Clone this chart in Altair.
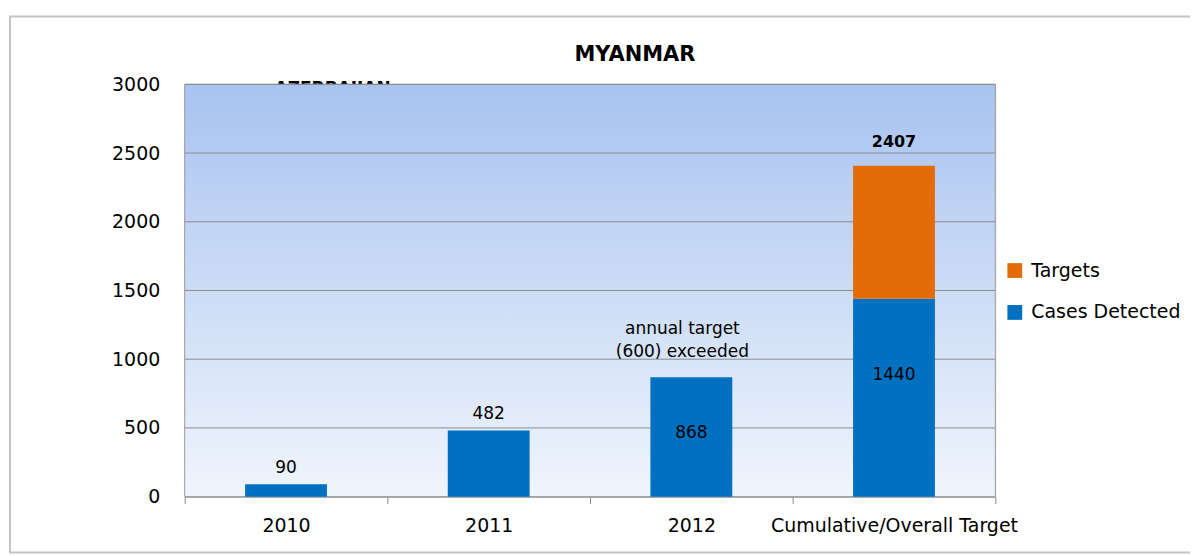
import altair as alt
import pandas as pd

categories = ["2010", "2011", "2012", "Cumulative/Overall Target"]
cases_detected = [90, 482, 868, 1440]
targets = [0, 0, 0, 967]
series_names = ["Targets", "Cases Detected"]
colors = ["#E36C09", "#0070C0"]
annotation_lines = ["annual target", "(600) exceeded"]
annotation_category = "2012"
annotation_value = 1280
total_label_value = 2407
title_text = "MYANMAR"
hidden_text = "AZERBAIJAN"

W, H = 812, 413
L, T = 177, 76
FONT = "DejaVu Sans"

rows = []
for c, v in zip(categories, cases_detected):
    rows.append({"category": c, "series": "Cases Detected", "value": v, "ord": 0})
for c, v in zip(categories, targets):
    rows.append({"category": c, "series": "Targets", "value": v, "ord": 1})
df = pd.DataFrame(rows)

lab = pd.DataFrame({"category": categories, "value": cases_detected})
lab["text"] = lab["value"].astype(str)
lab["pos"] = lab["value"] / 2
lab_above = lab[lab["value"] < 500]
lab_mid = lab[(lab["value"] >= 500) & (lab["category"] != categories[-1])]
lab_cum = lab[lab["category"] == categories[-1]]

tot = pd.DataFrame({"category": [categories[-1]], "value": [total_label_value]})
tot["text"] = tot["value"].astype(str)
ann = pd.DataFrame({"category": [annotation_category], "value": [annotation_value], "text": [annotation_lines]})

xscale = alt.Scale(domain=categories, paddingInner=0, paddingOuter=0)
xenc = alt.X("category:N", sort=categories, title=None, scale=xscale,
             axis=alt.Axis(labelAngle=0, labelFontSize=19, labelFont=FONT, labelColor="#000",
                           labelLimit=0, tickBand="extent", tickSize=7, tickColor="#8a8a8a",
                           domainColor="#8a8a8a", labelPadding=13, grid=False))
xplain = alt.X("category:N", sort=categories, scale=xscale)
yscale = alt.Scale(domain=[0, 3000], nice=False)

one = pd.DataFrame({"a": [0]})

bg = alt.Chart(one).mark_rect(
    fill=alt.Gradient(gradient="linear", x1=0, y1=0, x2=0, y2=1,
                      stops=[alt.GradientStop(color="#A8C3F0", offset=0),
                             alt.GradientStop(color="#F0F5FD", offset=1)]),
    stroke="#9a9a9a", strokeWidth=1
).encode(x=alt.value(0), x2=alt.value(W), y=alt.value(0), y2=alt.value(H))

frame = alt.Chart(one).mark_rect(
    fill=None, stroke="#c4c4c4", strokeWidth=2
).encode(x=alt.value(10 - (L + 8)), x2=alt.value(1195 - (L + 8)),
         y=alt.value(16 - (T + 8)), y2=alt.value(553 - (T + 8)))

hid = alt.Chart(pd.DataFrame({"t": [hidden_text]})).mark_text(
    font=FONT, fontSize=17, fontWeight="bold", align="left", baseline="top", color="#000"
).encode(x=alt.value(90), y=alt.value(-3), text="t:N")

ttl = alt.Chart(pd.DataFrame({"t": [title_text]})).mark_text(
    font=FONT, fontSize=21, fontWeight="bold", align="center", baseline="middle", color="#000"
).encode(x=alt.value(636 - (L + 8)), y=alt.value(55 - (T + 8)), text="t:N")

grid = alt.Chart(pd.DataFrame({"v": [500, 1000, 1500, 2000, 2500, 3000]})).mark_rule(
    color="#8c8c8c", strokeWidth=1
).encode(y=alt.Y("v:Q", scale=yscale))

bars = alt.Chart(df).mark_bar(size=82).encode(
    x=xenc,
    y=alt.Y("sum(value):Q", stack="zero", scale=yscale, title=None,
            axis=alt.Axis(values=[0, 500, 1000, 1500, 2000, 2500, 3000], format="d", ticks=False,
                          domain=False, grid=False, labelFontSize=19, labelFont=FONT,
                          labelColor="#000", labelPadding=25)),
    color=alt.Color("series:N", scale=alt.Scale(domain=series_names, range=colors),
                    legend=alt.Legend(title=None, orient="none", legendX=822, legendY=177,
                                      symbolType="square", symbolSize=220, symbolStrokeWidth=0,
                                      labelFontSize=19, labelFont=FONT, labelColor="#000",
                                      rowPadding=22, labelOffset=7, labelLimit=0)),
    order=alt.Order("ord:Q"),
)

t_above = alt.Chart(lab_above).mark_text(font=FONT, fontSize=17, dy=-16, color="#000").encode(
    x=xplain, y=alt.Y("value:Q", scale=yscale), text="text:N")
t_mid = alt.Chart(lab_mid).mark_text(font=FONT, fontSize=17, dy=-4, color="#000").encode(
    x=xplain, y=alt.Y("pos:Q", scale=yscale), text="text:N")
t_cum = alt.Chart(lab_cum).mark_text(font=FONT, fontSize=17, dy=-23, color="#000").encode(
    x=xplain, y=alt.Y("pos:Q", scale=yscale), text="text:N")
t_tot = alt.Chart(tot).mark_text(font=FONT, fontSize=16, fontWeight="bold", dy=-24, color="#000").encode(
    x=xplain, y=alt.Y("value:Q", scale=yscale), text="text:N")
t_ann = alt.Chart(ann).mark_text(font=FONT, fontSize=17, lineHeight=23, baseline="top", dx=-9, color="#000").encode(
    x=xplain, y=alt.Y("value:Q", scale=yscale), text="text:N")

chart = alt.layer(frame, hid, bg, grid, bars, t_above, t_mid, t_cum, t_tot, t_ann, ttl).properties(
    width=W, height=H,
    autosize=alt.AutoSizeParams(type="none"),
    padding={"left": L, "top": T, "right": 195, "bottom": 58},
).configure_view(stroke=None).configure(background="white")

chart.save("out.html", embed_options={"renderer": "svg", "actions": False})
